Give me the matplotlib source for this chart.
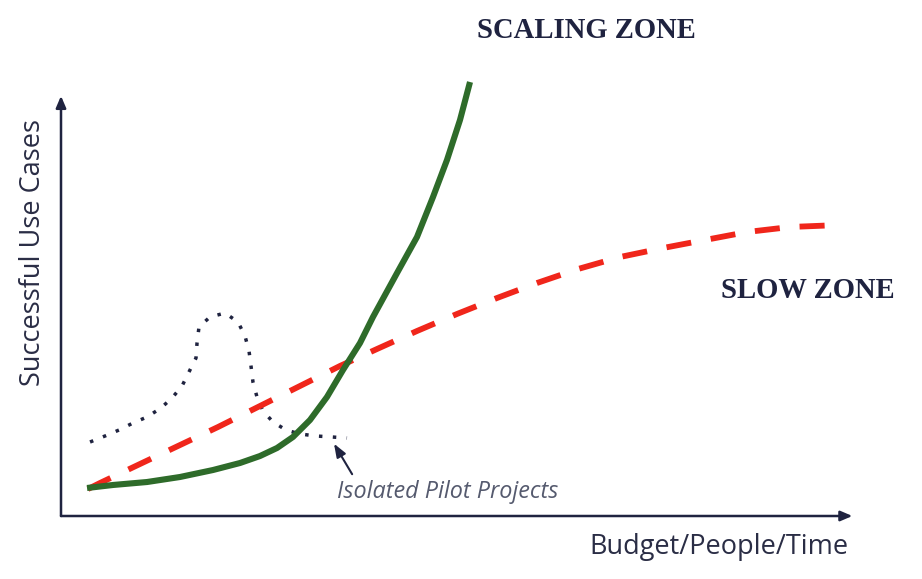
import matplotlib
matplotlib.use("Agg")
import matplotlib.pyplot as plt

# Conceptual chart data (x: budget/people/time, y: successful use cases, 0-100 units)
scaling_x = [3.30, 6.59, 10.90, 15.08, 19.26, 22.69, 25.22, 27.38, 29.40, 31.56,
             33.71, 35.74, 37.90, 39.54, 42.59, 45.12, 47.15, 48.92, 50.57, 51.84]
scaling_y = [6.70, 7.42, 8.13, 9.33, 11.00, 12.68, 14.35, 16.27, 18.90, 22.97,
             28.47, 34.93, 41.39, 47.61, 58.13, 66.75, 76.32, 85.17, 94.74, 103.83]

slow_x = [3.42, 4.94, 10.01, 14.83, 19.90, 24.97, 30.29, 35.36, 40.05, 45.12,
          50.19, 55.26, 60.33, 65.53, 70.85, 76.30, 81.62, 86.95, 92.40, 98.73]
slow_y = [6.46, 7.89, 12.44, 16.75, 21.29, 26.08, 31.10, 35.89, 39.95, 44.26,
          48.33, 52.15, 55.74, 59.09, 61.96, 64.11, 66.03, 67.94, 69.14, 69.62]

pilot_x = [3.68, 5.58, 7.35, 9.13, 10.90, 12.67, 14.07, 15.34, 16.22, 17.11, 17.24,
           17.49, 18.88, 20.79, 22.43, 23.32, 23.83, 24.08, 24.33, 24.84, 25.60,
           26.87, 28.52, 30.29, 32.32, 34.35, 36.25]
pilot_y = [17.70, 19.14, 20.57, 22.25, 23.68, 25.84, 28.23, 31.10, 34.45, 37.80, 41.39,
           45.22, 47.61, 48.56, 46.41, 43.06, 39.47, 35.89, 32.06, 28.47, 25.12,
           22.49, 20.57, 19.62, 19.14, 18.90, 18.66]

x_label = "Budget/People/Time"
y_label = "Successful Use Cases"
zone_top = "SCALING ZONE"
zone_right = "SLOW ZONE"
pilot_label = "Isolated Pilot Projects"

W, H = 922, 579
fig = plt.figure(figsize=(W / 100, H / 100), dpi=100)
fig.patch.set_facecolor("white")

x0, y0, x1, y1 = 61, 516, 850, 98
ax = fig.add_axes([x0 / W, 1 - y0 / H, (x1 - x0) / W, (y0 - y1) / H])
ax.set_xlim(0, 100)
ax.set_ylim(0, 100)
ax.set_axis_off()

navy = "#1f2340"
axis_col = "#4a4d60"

# axes arrows
ax.annotate("", xy=(1.003, 0), xytext=(0, 0), xycoords="axes fraction",
            arrowprops=dict(arrowstyle="-|>,head_length=0.7,head_width=0.3",
                            color=axis_col, lw=1.8, fc=navy, ec=navy,
                            shrinkA=0, shrinkB=0), annotation_clip=False)
ax.annotate("", xy=(0, 1.005), xytext=(0, 0), xycoords="axes fraction",
            arrowprops=dict(arrowstyle="-|>,head_length=0.7,head_width=0.3",
                            color=axis_col, lw=1.8, fc=navy, ec=navy,
                            shrinkA=0, shrinkB=0), annotation_clip=False)

ax.plot(pilot_x, pilot_y, color=navy, lw=2.5, linestyle=(0, (1, 3)),
        dash_capstyle="butt", clip_on=False, zorder=2)
ax.plot(slow_x, slow_y, color="#f0261b", lw=4.2, linestyle=(0, (4.3, 3.4)),
        clip_on=False, zorder=3)
ax.plot(scaling_x, scaling_y, color="#2e6b2a", lw=4.4, solid_capstyle="butt",
        solid_joinstyle="round", clip_on=False, zorder=4)

ax.annotate("", xy=(34.6, 17.3), xytext=(36.9, 10.0),
            arrowprops=dict(arrowstyle="-|>,head_length=0.8,head_width=0.3",
                            color=navy, lw=1.5, shrinkA=0, shrinkB=0),
            annotation_clip=False)
ax.text(49.05, 5.74, pilot_label, ha="center", va="center", fontsize=16.8,
        style="italic", color="#555a6e", family="Open Sans")

fig.text(719 / W, 1 - 547 / H, x_label, ha="center", va="center",
         fontsize=19.5, color="#2a2d45", family="Open Sans")
fig.text(33 / W, 1 - 252 / H, y_label, ha="center", va="center", rotation=90,
         fontsize=19.5, color="#2a2d45", family="Open Sans")
fig.text(586 / W, 1 - 30 / H, zone_top, ha="center", va="center",
         fontsize=20.6, fontweight="bold", color=navy, family="Liberation Serif")
fig.text(808 / W, 1 - 290 / H, zone_right, ha="center", va="center",
         fontsize=20.6, fontweight="bold", color=navy, family="Liberation Serif")

fig.savefig("out.png", dpi=100, facecolor="white")
